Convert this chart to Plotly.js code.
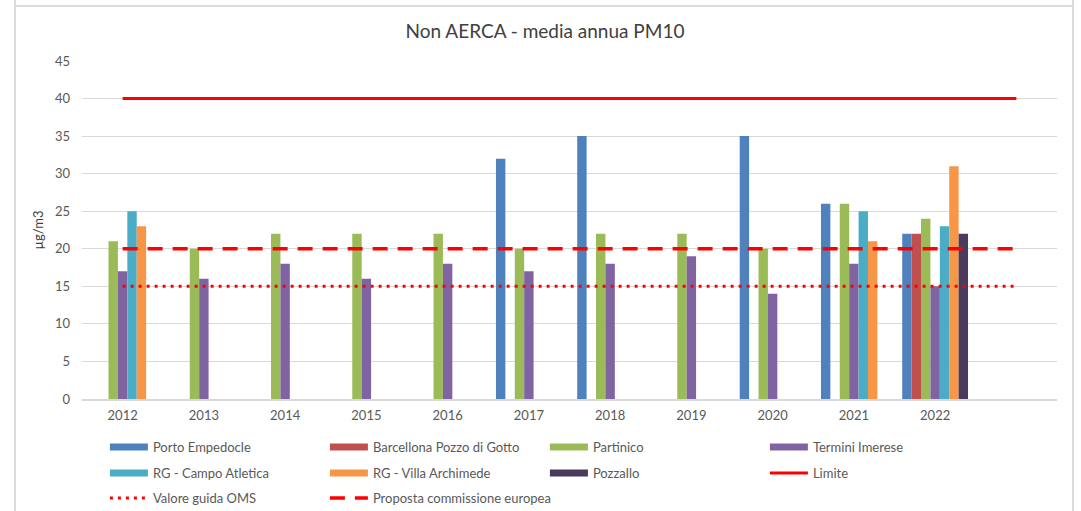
<!DOCTYPE html>
<html>
<head>
<meta charset="utf-8">
<script src="https://cdn.plot.ly/plotly-3.0.1.min.js"></script>
<style>
  html, body { margin: 0; padding: 0; background: #fff; }
  #wrap { position: relative; width: 1081px; height: 511px; overflow: hidden; }
  #chart { position: absolute; left: 0; top: 0; width: 1081px; height: 511px; }
  .frame { position: absolute; background: #DADADA; pointer-events: none; }
</style>
</head>
<body>
<div id="wrap">
  <div id="chart"></div>
  <div class="frame" style="left:14px; top:0; width:2px; height:511px;"></div>
  <div class="frame" style="left:1072px; top:0; width:2px; height:511px;"></div>
  <div class="frame" style="left:14px; top:5px; width:1060px; height:2px;"></div>
</div>
<script>
// ---- data ----
const years = [2012, 2013, 2014, 2015, 2016, 2017, 2018, 2019, 2020, 2021, 2022];
const portoEmpedocle = [null, null, null, null, null, 32, 35, null, 35, 26, 22];
const barcellona     = [null, null, null, null, null, null, null, null, null, null, 22];
const partinico      = [21, 20, 22, 22, 22, 20, 22, 22, 20, 26, 24];
const terminiImerese = [17, 16, 18, 16, 18, 17, 18, 19, 14, 18, 15];
const rgCampo        = [25, null, null, null, null, null, null, null, null, 25, 23];
const rgVilla        = [23, null, null, null, null, null, null, null, null, 21, 31];
const pozzallo       = [null, null, null, null, null, null, null, null, null, null, 22];

const lineYears = [2012, 2013, 2014, 2015, 2016, 2017, 2018, 2019, 2020, 2021, 2022, 2023];
const limite    = [40, 40, 40, 40, 40, 40, 40, 40, 40, 40, 40, 40];
const oms       = [15, 15, 15, 15, 15, 15, 15, 15, 15, 15, 15, 15];
const proposta  = [20, 20, 20, 20, 20, 20, 20, 20, 20, 20, 20, 20];

const tickLabels = ['2012','2013','2014','2015','2016','2017','2018','2019','2020','2021','2022'];
const yTicks = [0, 5, 10, 15, 20, 25, 30, 35, 40, 45];

const barSeries = [
  {name: 'Porto Empedocle', y: portoEmpedocle, color: '#4F81BD', legend: 'legend'},
  {name: 'Barcellona Pozzo di Gotto', y: barcellona, color: '#C0504D', legend: 'legend'},
  {name: 'Partinico', y: partinico, color: '#9BBB59', legend: 'legend'},
  {name: 'Termini Imerese', y: terminiImerese, color: '#8064A2', legend: 'legend'},
  {name: 'RG - Campo Atletica', y: rgCampo, color: '#4BACC6', legend: 'legend2'},
  {name: 'RG - Villa Archimede', y: rgVilla, color: '#F79646', legend: 'legend2'},
  {name: 'Pozzallo', y: pozzallo, color: '#4A3A5E', legend: 'legend2'}
];

const FONT = 'Lato, "Open Sans", sans-serif';
const traces = [];

barSeries.forEach(s => {
  traces.push({
    type: 'bar', x: years, y: s.y, name: s.name,
    marker: {color: s.color, line: {width: 0}},
    showlegend: false, hoverinfo: 'x+y+name'
  });
});

// legend proxies for bars (wide swatches)
barSeries.forEach(s => {
  traces.push({
    type: 'scatter', mode: 'lines', x: [null], y: [null], name: s.name,
    line: {color: s.color, width: 7}, legend: s.legend, showlegend: true, hoverinfo: 'skip'
  });
});

traces.push({
  type: 'scatter', mode: 'lines', x: lineYears, y: limite, name: 'Limite',
  line: {color: '#FF0000', width: 3}, legend: 'legend2'
});
traces.push({
  type: 'scatter', mode: 'lines', x: lineYears, y: oms, name: 'Valore guida OMS',
  line: {color: '#FF0000', width: 3, dash: '3px,5px'}, legend: 'legend3'
});
traces.push({
  type: 'scatter', mode: 'lines', x: lineYears, y: proposta, name: 'Proposta commissione europea',
  line: {color: '#FF0000', width: 3.5, dash: '15px,10px'}, legend: 'legend3', legendwidth: 220
});

const legBase = {
  orientation: 'h', xanchor: 'left', yanchor: 'middle',
  x: 0.0235, font: {family: FONT, size: 13, color: '#595959'},
  bgcolor: 'rgba(0,0,0,0)', borderwidth: 0,
  itemwidth: 38, entrywidth: 167, entrywidthmode: 'pixels',
  traceorder: 'normal', itemclick: false, itemdoubleclick: false
};

const layout = {
  width: 1081, height: 511,
  margin: {l: 82, r: 24, t: 61, b: 112, pad: 0, autoexpand: false},
  paper_bgcolor: 'rgba(0,0,0,0)', plot_bgcolor: 'rgba(0,0,0,0)',
  font: {family: FONT, size: 13, color: '#595959'},
  title: {
    text: 'Non AERCA - media annua PM10',
    font: {family: FONT, size: 19, color: '#404040'},
    x: 545/1081, xanchor: 'center', xref: 'container', y: 1 - 31/511, yanchor: 'middle', yref: 'container'
  },
  barmode: 'group', bargap: 0.19, bargroupgap: 0,
  xaxis: {
    type: 'linear', range: [2011.5, 2023.5],
    tickmode: 'array', tickvals: years, ticktext: tickLabels,
    showgrid: false, zeroline: false,
    showline: true, linecolor: '#D9D9D9', linewidth: 1.5,
    ticks: '', ticklabelstandoff: 4,
    tickfont: {family: FONT, size: 13, color: '#595959'}
  },
  yaxis: {
    range: [0, 45], tickmode: 'array', tickvals: yTicks,
    showgrid: true, gridcolor: '#D9D9D9', gridwidth: 1.2,
    zeroline: false, showline: false,
    ticks: '', ticklabelstandoff: 11,
    tickfont: {family: FONT, size: 13, color: '#595959'},
    title: {text: 'µg/m3', font: {family: FONT, size: 13, color: '#404040'}, standoff: 8}
  },
  legend:  Object.assign({}, legBase, {y: -(447 - 399) / 338}),
  legend2: Object.assign({}, legBase, {y: -(473 - 399) / 338}),
  legend3: Object.assign({}, legBase, {y: -(498 - 399) / 338}),
  showlegend: true
};

Plotly.newPlot('chart', traces, layout, {displayModeBar: false, staticPlot: true});
</script>
</body>
</html>
